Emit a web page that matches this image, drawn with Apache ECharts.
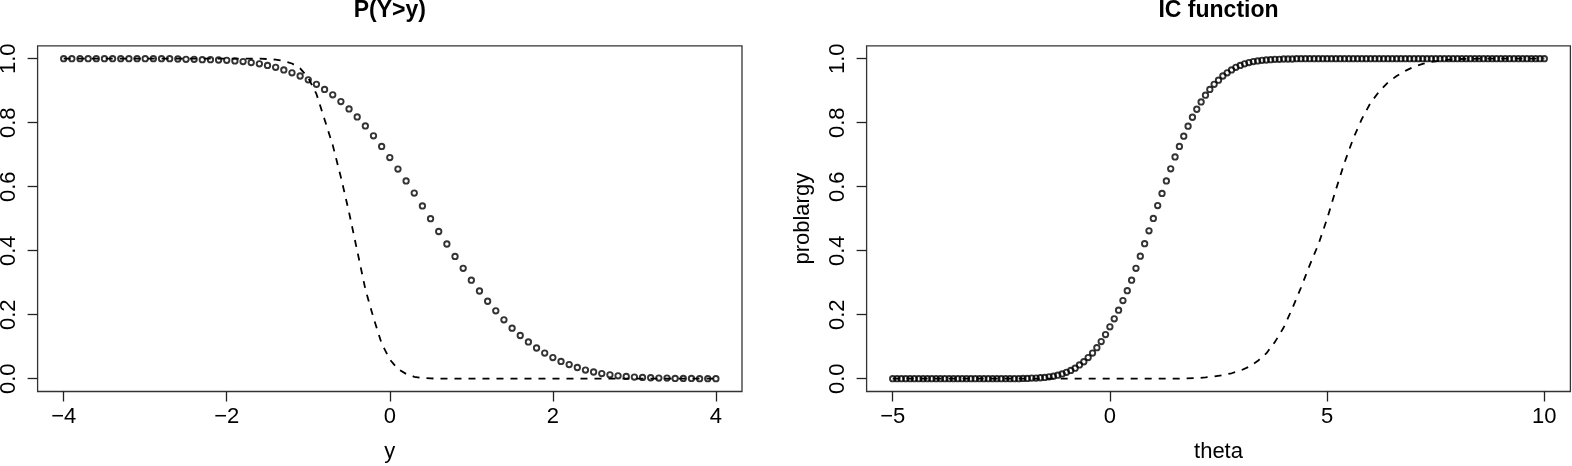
<!DOCTYPE html>
<html>
<head>
<meta charset="utf-8">
<script src="https://cdn.jsdelivr.net/npm/echarts@6/dist/echarts.min.js"></script>
<style>
html,body{margin:0;padding:0;background:#fff;}
#c{width:1572px;height:466px;}
</style>
</head>
<body>
<div id="c"></div>
<script>
// ---- Left panel: P(Y>y) ----
var leftTitle = 'P(Y>y)';
var leftXName = 'y';
var leftTicksX = [-4, -2, 0, 2, 4];
var ticksY = [0, 0.2, 0.4, 0.6, 0.8, 1.0];

var leftPtsX = [-4.0,-3.9,-3.8,-3.7,-3.6,-3.5,-3.4,-3.3,-3.2,-3.1,-3.0,-2.9,-2.8,-2.7,-2.6,
  -2.5,-2.4,-2.3,-2.2,-2.1,-2.0,-1.9,-1.8,-1.7,-1.6,-1.5,-1.4,-1.3,-1.2,-1.1,
  -1.0,-0.9,-0.8,-0.7,-0.6,-0.5,-0.4,-0.3,-0.2,-0.1,0.0,0.1,0.2,0.3,0.4,0.5,0.6,0.7,0.8,0.9,
  1.0,1.1,1.2,1.3,1.4,1.5,1.6,1.7,1.8,1.9,2.0,2.1,2.2,2.3,2.4,2.5,2.6,2.7,2.8,2.9,
  3.0,3.1,3.2,3.3,3.4,3.5,3.6,3.7,3.8,3.9,4.0];
var leftPtsY = [1,1,1,1,1,1,1,1,1,1,1,1,1,1,0.999,
  0.998,0.998,0.997,0.997,0.996,0.995,0.993,0.991,0.988,0.984,0.979,0.973,0.965,0.956,0.946,
  0.934,0.920,0.904,0.887,0.866,0.843,0.818,0.790,0.759,0.726,0.691,0.655,0.618,0.580,0.540,0.500,0.460,0.421,0.382,0.345,
  0.308,0.274,0.242,0.212,0.184,0.158,0.135,0.115,0.096,0.080,0.066,0.054,0.044,0.035,0.027,0.021,0.016,0.012,0.009,0.007,
  0.005,0.004,0.003,0.002,0.002,0.001,0.001,0.001,0,0,0];

var leftLineX = [-4,-1.6,-1.5,-1.4,-1.3,-1.2,-1.1,-1.0,-0.9,-0.8,-0.7,-0.6,-0.5,-0.4,-0.3,-0.2,-0.1,0,0.1,0.2,0.3,0.4,0.5,0.6,4];
var leftLineY = [1,1,0.999,0.997,0.993,0.985,0.970,0.940,0.890,0.810,0.730,0.630,0.520,0.400,0.280,0.190,0.110,0.060,0.030,0.015,0.006,0.002,0.001,0,0];

// ---- Right panel: IC function ----
var rightTitle = 'IC function';
var rightXName = 'theta';
var rightYName = 'problargy';
var rightTicksX = [-5, 0, 5, 10];

var rightPtsX = [-5.0,-4.9,-4.8,-4.7,-4.6,-4.5,-4.4,-4.3,-4.2,-4.1,-4.0,-3.9,-3.8,-3.7,-3.6,-3.5,-3.4,-3.3,-3.2,-3.1,
  -3.0,-2.9,-2.8,-2.7,-2.6,-2.5,-2.4,-2.3,-2.2,-2.1,
  -2.0,-1.9,-1.8,-1.7,-1.6,-1.5,-1.4,-1.3,-1.2,-1.1,-1.0,-0.9,-0.8,-0.7,-0.6,-0.5,-0.4,-0.3,-0.2,-0.1,
  0.0,0.1,0.2,0.3,0.4,0.5,0.6,0.7,0.8,0.9,1.0,1.1,1.2,1.3,1.4,1.5,1.6,1.7,1.8,1.9,
  2.0,2.1,2.2,2.3,2.4,2.5,2.6,2.7,2.8,2.9,3.0,3.1,3.2,3.3,3.4,3.5,3.6,3.7,3.8,3.9,
  4.0,4.1,4.2,4.3,4.4,4.5,4.6,4.7,4.8,4.9,5.0,5.1,5.2,5.3,5.4,5.5,5.6,5.7,5.8,5.9,
  6.0,6.1,6.2,6.3,6.4,6.5,6.6,6.7,6.8,6.9,7.0,7.1,7.2,7.3,7.4,7.5,7.6,7.7,7.8,7.9,
  8.0,8.1,8.2,8.3,8.4,8.5,8.6,8.7,8.8,8.9,9.0,9.1,9.2,9.3,9.4,9.5,9.6,9.7,9.8,9.9,10.0];
var rightPtsY = [0,0,0,0,0,0,0,0,0,0,0,0,0,0,0,0,0,0,0,0,
  0,0,0,0,0,0,0,0,0,0,
  0.001,0.001,0.002,0.002,0.003,0.004,0.006,0.008,0.011,0.015,0.020,0.026,0.033,0.043,0.053,0.066,0.080,0.097,0.116,0.138,
  0.162,0.187,0.214,0.244,0.275,0.308,0.345,0.383,0.422,0.462,0.501,0.541,0.579,0.618,0.656,0.693,0.726,0.758,0.789,0.817,
  0.842,0.865,0.886,0.904,0.920,0.933,0.946,0.956,0.965,0.973,0.979,0.984,0.988,0.991,0.993,0.995,0.996,0.997,0.998,0.998,
  0.999,0.999,0.999,1,1,1,1,1,1,1,1,1,1,1,1,1,1,1,1,1,
  1,1,1,1,1,1,1,1,1,1,1,1,1,1,1,1,1,1,1,1,
  1,1,1,1,1,1,1,1,1,1,1,1,1,1,1,1,1,1,1,1,1];

var rightLineX = [-5,1.6,2.0,2.2,2.4,2.6,2.8,3.0,3.2,3.4,3.6,3.8,4.0,4.2,4.4,4.6,4.8,5.0,5.2,5.4,5.6,5.8,6.0,6.2,6.4,6.6,6.8,7.0,7.2,7.4,7.6,7.8,8.0,8.5,10];
var rightLineY = [0,0,0.002,0.004,0.007,0.011,0.017,0.025,0.037,0.055,0.079,0.115,0.160,0.220,0.285,0.355,0.420,0.500,0.590,0.675,0.750,0.812,0.862,0.898,0.926,0.946,0.962,0.975,0.984,0.990,0.994,0.997,0.999,1,1];

function pairs(xs, ys){ var o=[]; for(var i=0;i<xs.length;i++) o.push([xs[i], ys[i]]); return o; }

var FONT = '"Liberation Sans", Arial, Helvetica, sans-serif';
var FS = 22;
function minusFmt(v){ return String(v).replace('-', '\u2212'); }

var L = {left:37.6, top:45.9, width:704.4, height:345.6};
var R = {left:866.6, top:45.9, width:703.8, height:345.6};

function xAxisCfg(idx, min, max, ticks, name){
  return {
    type:'value', gridIndex:idx, min:min, max:max, position:'bottom',
    name:name, nameLocation:'middle', nameGap:49,
    nameTextStyle:{fontFamily:FONT, fontSize:FS, color:'#000'},
    axisLine:{show:false, onZero:false},
    axisTick:{show:true, length:10, inside:false, customValues:ticks, lineStyle:{color:'#222', width:1.3}},
    axisLabel:{show:true, margin:14, customValues:ticks, fontFamily:FONT, fontSize:FS, color:'#000', formatter:minusFmt},
    splitLine:{show:false}
  };
}
function yAxisCfg(idx, name){
  return {
    type:'value', gridIndex:idx, min:-0.04, max:1.04, position:'left',
    name:name||'', nameLocation:'middle', nameGap:53, nameRotate:90,
    nameTextStyle:{fontFamily:FONT, fontSize:FS, color:'#000'},
    axisLine:{show:false, onZero:false},
    axisTick:{show:true, length:10, inside:false, customValues:ticksY, lineStyle:{color:'#222', width:1.3}},
    axisLabel:{show:true, margin:17.5, rotate:90, customValues:ticksY, fontFamily:FONT, fontSize:FS, color:'#000',
      formatter:function(v){ return v.toFixed(1); }},
    splitLine:{show:false}
  };
}

var chart = echarts.init(document.getElementById('c'), null, {renderer:'canvas'});
var ptStyle = {color:'rgba(0,0,0,0)', borderColor:'#000', borderWidth:1.9};
var lnStyle = {color:'#000', width:1.8, type:[7,7]};

chart.setOption({
  animation:false,
  backgroundColor:'#fff',
  grid:[
    Object.assign({show:true, borderColor:'#333', borderWidth:1.3, backgroundColor:'transparent', containLabel:false, outerBoundsMode:'none'}, L),
    Object.assign({show:true, borderColor:'#333', borderWidth:1.3, backgroundColor:'transparent', containLabel:false, outerBoundsMode:'none'}, R)
  ],
  xAxis:[ xAxisCfg(0, -4.32, 4.32, leftTicksX, leftXName), xAxisCfg(1, -5.6, 10.6, rightTicksX, rightXName) ],
  yAxis:[ yAxisCfg(0, ''), yAxisCfg(1, rightYName) ],
  graphic:[
    {type:'text', x:L.left+L.width/2, y:10.5, style:{text:leftTitle, textAlign:'center', textVerticalAlign:'middle', fontFamily:FONT, fontSize:23, fontWeight:'bold', fill:'#000'}},
    {type:'text', x:R.left+R.width/2, y:10.5, style:{text:rightTitle, textAlign:'center', textVerticalAlign:'middle', fontFamily:FONT, fontSize:23, fontWeight:'bold', fill:'#000'}}
  ],
  series:[
    {type:'line', xAxisIndex:0, yAxisIndex:0, data:pairs(leftLineX, leftLineY), showSymbol:false, symbol:'none', lineStyle:lnStyle, z:2},
    {type:'scatter', xAxisIndex:0, yAxisIndex:0, data:pairs(leftPtsX, leftPtsY), symbol:'circle', symbolSize:5.4, itemStyle:ptStyle, z:3},
    {type:'line', xAxisIndex:1, yAxisIndex:1, data:pairs(rightLineX, rightLineY), showSymbol:false, symbol:'none', lineStyle:lnStyle, z:2},
    {type:'scatter', xAxisIndex:1, yAxisIndex:1, data:pairs(rightPtsX, rightPtsY), symbol:'circle', symbolSize:5.4, itemStyle:ptStyle, z:3}
  ]
});
</script>
</body>
</html>
